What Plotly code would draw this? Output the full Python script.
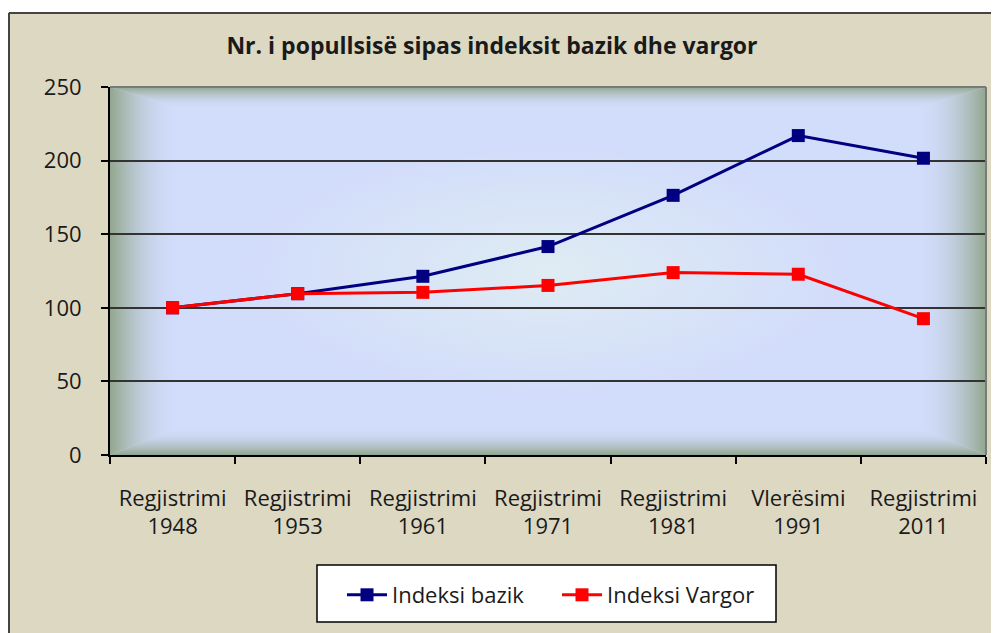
import base64
import plotly.graph_objects as go

# ---- data ----
CATEGORIES = ["Regjistrimi 1948", "Regjistrimi 1953", "Regjistrimi 1961", "Regjistrimi 1971",
              "Regjistrimi 1981", "Vlerësimi 1991", "Regjistrimi 2011"]
LABEL_TYPE = ["Regjistrimi", "Regjistrimi", "Regjistrimi", "Regjistrimi",
              "Regjistrimi", "Vlerësimi", "Regjistrimi"]
YEARS = ["1948", "1953", "1961", "1971", "1981", "1991", "2011"]
INDEKSI_BAZIK = [100, 109.6, 121.4, 141.6, 176.4, 217.0, 201.6]
INDEKSI_VARGOR = [100, 109.6, 110.5, 115.2, 123.9, 122.8, 92.6]
Y_TICKS = [0, 50, 100, 150, 200, 250]

TITLE = "Nr. i popullsisë sipas indeksit bazik dhe vargor"
FONT = "Open Sans"
BEIGE = "#ddd8c2"

# page body has an 8px margin, so figure coords = screen coords - 8
OFF = 8
FIG_W, FIG_H = 999, 633
PL, PR, PT, PB = 110, 986, 87, 455           # plot area in screen px
PW, PH = PR - PL, PB - PT


def px(xs):
    return (xs - PL) / PW


def py(ys):
    return (PB - ys) / PH


# ---- plot-area gradient (SVG) ----
W, H = PW, PH
L, R, T, B = 70, 70, 22, 28
EDGE = "#91a68c"
INNER = "#d2dcfb"
svg = f'''<svg xmlns="http://www.w3.org/2000/svg" width="{W}" height="{H}" viewBox="0 0 {W} {H}" preserveAspectRatio="none">
<defs>
<linearGradient id="gl" x1="0" y1="0" x2="1" y2="0"><stop offset="0" stop-color="{EDGE}" stop-opacity="1"/><stop offset="1" stop-color="{INNER}" stop-opacity="0"/></linearGradient>
<linearGradient id="gr" x1="1" y1="0" x2="0" y2="0"><stop offset="0" stop-color="{EDGE}" stop-opacity="1"/><stop offset="1" stop-color="{INNER}" stop-opacity="0"/></linearGradient>
<linearGradient id="gt" x1="0" y1="0" x2="0" y2="1"><stop offset="0" stop-color="{EDGE}" stop-opacity="1"/><stop offset="1" stop-color="{INNER}" stop-opacity="0"/></linearGradient>
<linearGradient id="gb" x1="0" y1="1" x2="0" y2="0"><stop offset="0" stop-color="{EDGE}" stop-opacity="1"/><stop offset="1" stop-color="{INNER}" stop-opacity="0"/></linearGradient>
<radialGradient id="gc" cx="0.5" cy="0.5" r="0.5"><stop offset="0" stop-color="#e0eef2" stop-opacity="0.9"/><stop offset="1" stop-color="#e0eef2" stop-opacity="0"/></radialGradient>
</defs>
<rect x="0" y="0" width="{W}" height="{H}" fill="{INNER}"/>
<ellipse cx="{W/2}" cy="{H/2}" rx="{W*0.35}" ry="{H*0.35}" fill="url(#gc)"/>
<polygon points="0,0 {L},{T} {L},{H-B} 0,{H}" fill="url(#gl)"/>
<polygon points="{W},0 {W-R},{T} {W-R},{H-B} {W},{H}" fill="url(#gr)"/>
<polygon points="0,0 {W},0 {W-R},{T} {L},{T}" fill="url(#gt)"/>
<polygon points="0,{H} {W},{H} {W-R},{H-B} {L},{H-B}" fill="url(#gb)"/>
</svg>'''
svg_uri = "data:image/svg+xml;base64," + base64.b64encode(svg.encode()).decode()

fig = go.Figure()
fig.add_trace(go.Scatter(
    x=CATEGORIES, y=INDEKSI_BAZIK, name="Indeksi bazik", mode="lines+markers",
    line=dict(color="#000080", width=3), marker=dict(symbol="square", size=13, color="#000080")))
fig.add_trace(go.Scatter(
    x=CATEGORIES, y=INDEKSI_VARGOR, name="Indeksi Vargor", mode="lines+markers",
    line=dict(color="#ff0000", width=3), marker=dict(symbol="square", size=13, color="#ff0000")))
# invisible trace to carry the second (year) label row
fig.add_trace(go.Scatter(x=CATEGORIES, y=INDEKSI_BAZIK, xaxis="x2", mode="markers",
                         marker=dict(opacity=0), showlegend=False, hoverinfo="skip"))

fig.update_layout(
    width=FIG_W, height=FIG_H,
    paper_bgcolor=BEIGE, plot_bgcolor="rgba(0,0,0,0)",
    margin=dict(l=PL - OFF, r=FIG_W - (PR - OFF), t=PT - OFF, b=FIG_H - (PB - OFF), autoexpand=False),
    font=dict(family=FONT, color="#1a1a1a"),
    title=dict(text=f"<b>{TITLE}</b>", x=(492 - OFF) / FIG_W, xref="container", xanchor="center",
               y=1 - (46 - OFF) / FIG_H, yref="container", yanchor="middle",
               font=dict(size=23, family=FONT, color="#1a1a1a")),
    xaxis=dict(type="category", categoryorder="array", categoryarray=CATEGORIES,
               range=[-0.5, len(CATEGORIES) - 0.5],
               tickmode="array", tickvals=CATEGORIES, ticktext=LABEL_TYPE,
               tickson="boundaries", ticks="outside", ticklen=7, tickwidth=2, tickcolor="#000",
               showline=True, linecolor="#000", linewidth=2, showgrid=False, automargin=False,
               tickfont=dict(size=22, family=FONT), ticklabelstandoff=23),
    xaxis2=dict(type="category", categoryorder="array", categoryarray=CATEGORIES,
                range=[-0.5, len(CATEGORIES) - 0.5], overlaying="x", anchor="y", side="bottom",
                tickmode="array", tickvals=CATEGORIES, ticktext=YEARS, automargin=False,
                ticks="", showline=False, showgrid=False,
                tickfont=dict(size=22, family=FONT), ticklabelstandoff=56),
    yaxis=dict(range=[0, 250], tickmode="array", tickvals=Y_TICKS,
               ticks="outside", ticklen=7, tickwidth=2, tickcolor="#000",
               showline=True, linecolor="#000", linewidth=2, automargin=False,
               showgrid=True, gridcolor="#333333", gridwidth=2, zeroline=False,
               tickfont=dict(size=22, family=FONT), ticklabelstandoff=15),
    legend=dict(orientation="h", x=px(342), xanchor="left", y=py(595), yanchor="middle",
                bgcolor="rgba(0,0,0,0)", borderwidth=0,
                font=dict(size=22, family=FONT), entrywidth=160, itemwidth=40),
    showlegend=True,
    images=[dict(source=svg_uri, xref="paper", yref="paper", x=0, y=1, sizex=1, sizey=1,
                 xanchor="left", yanchor="top", sizing="stretch", layer="below")],
    shapes=[
        # white margins outside the chart frame
        dict(type="rect", xref="paper", yref="paper", x0=-0.3, x1=1.3, y0=py(12), y1=1.6,
             fillcolor="white", line_width=0, layer="below"),
        dict(type="rect", xref="paper", yref="paper", x0=-0.3, x1=px(8), y0=-1, y1=1.6,
             fillcolor="white", line_width=0, layer="below"),
        # chart frame (left and top edges; others lie outside the view)
        dict(type="line", xref="paper", yref="paper", x0=px(9), x1=px(9),
             y0=py(700), y1=py(13), line=dict(color="#444", width=2), layer="above"),
        dict(type="line", xref="paper", yref="paper", x0=px(9), x1=px(1100),
             y0=py(13), y1=py(13), line=dict(color="#444", width=2), layer="above"),
        # legend box
        dict(type="rect", xref="paper", yref="paper", x0=px(317), x1=px(776),
             y0=py(622), y1=py(565), line=dict(color="#000", width=1.5),
             fillcolor="white", layer="above"),
        # plot-area border (top / right)
        dict(type="line", xref="paper", yref="paper", x0=0, x1=1, y0=1, y1=1,
             line=dict(color="#7a7a7a", width=2), layer="above"),
        dict(type="line", xref="paper", yref="paper", x0=1, x1=1, y0=0, y1=1,
             line=dict(color="#7a7a7a", width=2), layer="above"),
    ],
)

fig.write_html("out.html")
